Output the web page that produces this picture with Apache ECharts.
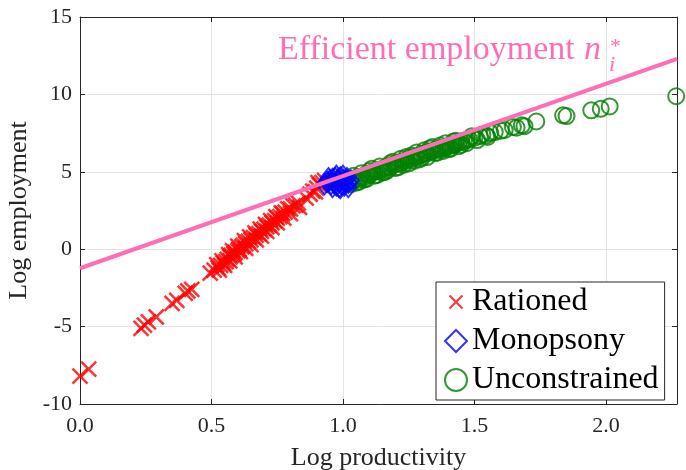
<!DOCTYPE html>
<html><head><meta charset="utf-8">
<script src="https://cdn.jsdelivr.net/npm/echarts@6/dist/echarts.min.js"></script>
<style>html,body{margin:0;padding:0;background:#fff}#c{width:686px;height:470px}</style>
</head><body><div id="c"></div>
<script>
// ---- data ----
const xTickLabels = ['0.0', '0.5', '1.0', '1.5', '2.0'];
const yTickValues = [-10, -5, 0, 5, 10, 15];
const seriesNames = ['Rationed', 'Monopsony', 'Unconstrained'];

const rationed = [
  [0.0,-8.2],[0.033,-7.75],
  [0.232,-5.12],[0.245,-4.9],[0.26,-4.7],[0.29,-4.38],
  [0.35,-3.5],[0.368,-3.3],[0.40,-2.85],[0.41,-2.7],[0.425,-2.6],
  [0.495,-1.55],[0.51,-1.35],[0.525,-1.2],[0.535,-1.05],[0.545,-0.9],[0.555,-0.8],
  [0.56,-0.65],[0.57,-0.5],[0.575,-0.4],[0.585,-0.3],[0.59,-0.2],[0.60,-0.1],
  [0.605,0.0],[0.615,0.15],[0.62,0.25],[0.63,0.35],[0.64,0.5],[0.65,0.6],
  [0.66,0.75],[0.67,0.9],[0.68,1.0],[0.69,1.15],[0.70,1.3],[0.71,1.45],
  [0.72,1.55],[0.73,1.7],[0.74,1.85],[0.75,2.0],[0.76,2.1],[0.77,2.3],
  [0.78,2.4],[0.80,2.6],[0.82,2.85],
  [0.86,3.3],[0.875,3.55],[0.885,3.75],[0.90,3.95],[0.91,4.15],[0.92,4.3],
  [0.52,-1.0],[0.53,-1.35],[0.54,-0.75],[0.55,-1.05],[0.565,-0.35],[0.57,-0.75],
  [0.58,-0.1],[0.59,-0.5],[0.60,0.2],[0.61,-0.15],[0.625,0.55],[0.63,0.05],
  [0.645,0.8],[0.65,0.3],[0.665,1.05],[0.67,0.6],[0.685,1.3],[0.69,0.85],
  [0.705,1.6],[0.71,1.15],[0.725,1.85],[0.73,1.4],[0.745,2.1],[0.75,1.7],
  [0.765,2.35],[0.775,2.0],[0.79,2.6],[0.80,2.3],[0.81,2.8],[0.83,3.0],
  [0.835,2.7],[0.895,3.7],[0.905,4.3],[0.93,4.45]
];
const monopsony = [
  [0.94,4.35],[0.95,4.45],[0.955,4.2],[0.96,4.55],[0.965,4.3],[0.97,4.6],
  [0.975,4.1],[0.98,4.5],[0.985,4.3],[0.99,4.65],[0.995,4.2],[1.0,4.5],
  [1.005,4.1],[1.01,4.4],[1.02,4.3],
  [0.93,4.2],[0.945,4.6],[0.96,4.0],[0.975,4.75],[0.99,3.95],[1.0,4.75],
  [1.015,4.6],[1.02,4.0],[1.03,4.45],[0.985,4.0]
];
const unconstrained = [
  [1.02,4.35],[1.03,4.5],[1.04,4.45],[1.05,4.6],[1.05,4.3],[1.06,4.55],[1.07,4.7],
  [1.08,4.65],[1.08,4.5],[1.09,4.85],[1.10,4.8],[1.10,5.05],[1.11,4.95],[1.12,5.0],
  [1.12,4.75],[1.13,5.05],[1.14,5.1],[1.15,5.2],[1.16,5.2],[1.16,5.0],[1.17,5.35],
  [1.18,5.3],[1.18,5.55],[1.19,5.45],[1.20,5.5],[1.20,5.25],[1.21,5.55],[1.22,5.6],
  [1.23,5.7],[1.24,5.7],[1.25,5.85],[1.25,5.55],[1.26,5.8],[1.26,6.05],[1.27,5.95],
  [1.28,6.0],[1.29,6.05],[1.30,6.1],[1.30,5.9],[1.31,6.2],[1.32,6.2],[1.33,6.3],
  [1.33,6.5],[1.34,6.35],[1.35,6.4],[1.35,6.2],[1.36,6.45],[1.37,6.5],[1.38,6.55],
  [1.39,6.6],[1.40,6.65],[1.40,6.45],[1.41,6.7],[1.42,6.75],[1.42,6.95],[1.43,6.8],
  [1.44,6.9],[1.45,6.95],[1.45,6.75],[1.46,7.0],[1.48,7.1],[1.50,7.2],[1.52,7.3],
  [1.03,4.2],[1.04,4.75],[1.06,4.35],[1.07,4.9],[1.09,4.55],[1.11,5.2],[1.13,4.8],
  [1.14,5.35],[1.15,4.95],[1.17,5.1],[1.19,5.65],[1.21,5.3],[1.22,5.85],[1.23,5.45],
  [1.24,5.95],[1.27,5.7],[1.28,6.25],[1.29,5.8],[1.31,6.4],[1.32,5.95],[1.34,6.6],
  [1.36,6.25],[1.37,6.7],[1.38,6.35],[1.39,6.85],[1.41,6.5],[1.43,7.0],[1.44,6.65],
  [1.47,7.05],[1.47,6.85],[1.49,7.3],[1.51,7.05],[1.53,7.4],[1.55,7.25],
  [1.545,7.35],[1.56,7.5],[1.577,7.57],[1.60,7.65],[1.615,7.7],[1.646,7.89],
  [1.66,7.85],[1.68,8.0],[1.69,7.95],[1.735,8.25],[1.837,8.65],[1.85,8.6],
  [1.944,8.97],[1.98,9.07],[2.014,9.22],[2.267,9.88]
];
const efficientLine = [[0,-1.23],[2.27,12.3]];
const efficientLabel = 'Efficient employment';

// ---- chart ----
const FONT = 'Liberation Serif';
const AX = '#262626';
const X_MIN = 0, X_MAX = 2.27, X_INT = 0.5;
const Y_MIN = yTickValues[0], Y_MAX = yTickValues[yTickValues.length - 1], Y_INT = 5;
const xLabelFmt = v => {
  const k = Math.round(v / X_INT);
  return Math.abs(k * X_INT - v) < 1e-6 ? xTickLabels[k] : '';
};
const crossPath = 'path://M0,0L1,1M1,0L0,1';
const crossLegend = 'path://M-0.35,-0.35M0,0L1,1M1,0L0,1M1.35,1.35';

const chart = echarts.init(document.getElementById('c'), null, {renderer: 'canvas'});
chart.setOption({
  animation: false,
  backgroundColor: '#fff',
  grid: {left: 80, right: 9, top: 17, bottom: 66, containLabel: false, outerBoundsMode: 'none'},
  xAxis: [{
    type: 'value', min: X_MIN, max: X_MAX, interval: X_INT,
    name: 'Log productivity', nameLocation: 'middle', nameGap: 41,
    nameTextStyle: {fontFamily: FONT, fontSize: 26, color: AX},
    axisLine: {show: true, onZero: false, lineStyle: {color: AX, width: 1}},
    axisTick: {show: true, inside: true, length: 5, lineStyle: {color: AX}},
    axisLabel: {formatter: xLabelFmt, fontFamily: FONT, fontSize: 22, color: AX, margin: 11},
    splitLine: {show: true, lineStyle: {color: '#e3e3e3', width: 1}}
  }, {
    type: 'value', position: 'top', min: X_MIN, max: X_MAX, interval: X_INT,
    axisLine: {show: true, onZero: false, lineStyle: {color: AX, width: 1}},
    axisTick: {show: true, inside: true, length: 5, lineStyle: {color: AX}},
    axisLabel: {show: false}, splitLine: {show: false}
  }],
  yAxis: [{
    type: 'value', min: Y_MIN, max: Y_MAX, interval: Y_INT,
    name: 'Log employment', nameLocation: 'middle', nameGap: 45, nameRotate: 90,
    nameTextStyle: {fontFamily: FONT, fontSize: 26, color: AX},
    axisLine: {show: true, onZero: false, lineStyle: {color: AX, width: 1}},
    axisTick: {show: true, inside: true, length: 5, lineStyle: {color: AX}},
    axisLabel: {fontFamily: FONT, fontSize: 22, color: AX, margin: 8},
    splitLine: {show: true, lineStyle: {color: '#e3e3e3', width: 1}}
  }, {
    type: 'value', position: 'right', min: Y_MIN, max: Y_MAX, interval: Y_INT,
    axisLine: {show: true, onZero: false, lineStyle: {color: AX, width: 1}},
    axisTick: {show: true, inside: true, length: 5, lineStyle: {color: AX}},
    axisLabel: {show: false}, splitLine: {show: false}
  }],
  legend: {
    orient: 'vertical', left: 436, top: 282,
    padding: [4, 6, 4, 8], itemGap: 7, itemWidth: 22, itemHeight: 22, itemTextGap: 7,
    borderColor: AX, borderWidth: 1, borderRadius: 0, backgroundColor: '#fff',
    textStyle: {fontFamily: FONT, fontSize: 32, color: '#000', lineHeight: 30},
    data: [
      {name: seriesNames[0], icon: crossLegend},
      {name: seriesNames[1]},
      {name: seriesNames[2]}
    ]
  },
  graphic: [
    {type: 'text', left: 278, top: 33, z: 10,
     style: {text: efficientLabel, fontFamily: FONT, fontSize: 34, fill: '#ff6eb4'}},
    {type: 'text', left: 584, top: 33, z: 10,
     style: {text: 'n', fontFamily: FONT, fontStyle: 'italic', fontSize: 34, fill: '#ff6eb4'}},
    {type: 'text', left: 610, top: 36, z: 10,
     style: {text: '*', fontFamily: FONT, fontSize: 22, fill: '#ff6eb4'}},
    {type: 'text', left: 609, top: 54, z: 10,
     style: {text: 'i', fontFamily: FONT, fontStyle: 'italic', fontSize: 22, fill: '#ff6eb4'}}
  ],
  series: [
    {name: seriesNames[0], type: 'scatter', data: rationed, symbol: crossPath, symbolSize: 15,
     itemStyle: {color: 'transparent', borderColor: '#ff0000', borderWidth: 2.5}, z: 2},
    {name: seriesNames[1], type: 'scatter', data: monopsony, symbol: 'diamond', symbolSize: [16, 20],
     itemStyle: {color: 'transparent', borderColor: '#0000ff', borderWidth: 2}, z: 3},
    {name: seriesNames[2], type: 'scatter', data: unconstrained, symbol: 'circle', symbolSize: 16,
     itemStyle: {color: 'transparent', borderColor: '#008000', borderWidth: 2}, z: 2},
    {name: 'efficient', type: 'line', data: efficientLine, symbol: 'none', silent: true,
     lineStyle: {color: '#ff6eb4', width: 4}, z: 5}
  ]
});
</script></body></html>
